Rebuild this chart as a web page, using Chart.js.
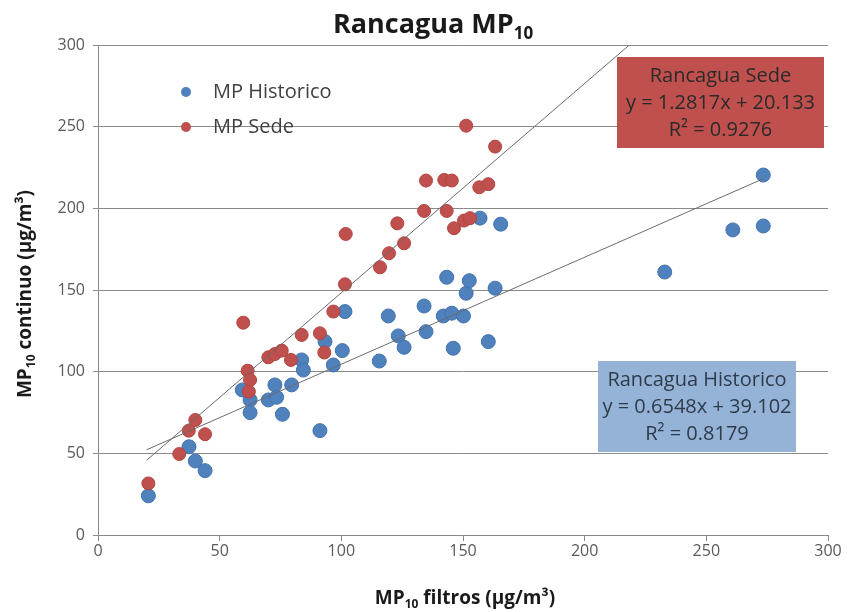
<!DOCTYPE html>
<html lang="es">
<head>
  <meta charset="UTF-8">
  <title>Rancagua MP10</title>
  <script src="https://cdn.jsdelivr.net/npm/chart.js"></script>
  <style>
    body { margin: 0; background: #fff; }
    #grafico { display: block; }
  </style>
</head>
<body>
  <canvas id="grafico" width="851" height="612"></canvas>
  <script>
    // MP Historico (filtros, continuo)
    const histX = [20.7, 37.4, 40, 44, 59.3, 62.5, 62.5, 70, 72.7, 73.4, 75.8, 79.6, 83.7, 84.4, 91.2, 93.3, 96.7, 100.4, 101.5, 115.6, 119.3, 123.4, 125.8, 134, 134.8, 141.9, 143.3, 145.4, 146, 150.2, 151.3, 152.6, 157, 160.4, 163.2, 165.5, 232.9, 260.9, 273.4, 273.4];
    const histY = [24, 54, 45.3, 39.4, 88.8, 82.7, 74.9, 82.7, 91.9, 84.3, 73.9, 91.9, 107.2, 101, 63.9, 118.4, 104.1, 112.9, 136.8, 106.5, 134.1, 121.9, 114.9, 140.2, 124.5, 134.1, 157.8, 135.8, 114.3, 134.1, 148, 155.7, 194, 118.4, 151.1, 190.3, 161, 186.8, 220.4, 189.2];

    // MP Sede
    const sedeX = [20.7, 33.4, 37.3, 40, 44, 59.7, 61.5, 62.5, 62, 70, 72.7, 75.5, 79.3, 83.7, 91.2, 93, 96.7, 101.8, 101.5, 115.9, 119.6, 123, 125.8, 134, 134.8, 142.3, 143.3, 145.4, 146.3, 150.4, 151.3, 152.9, 156.7, 160.4, 163.2];
    const sedeY = [31.6, 49.6, 63.9, 70.4, 61.7, 130, 100.6, 94.9, 87.8, 108.8, 110.8, 112.9, 107.2, 122.5, 123.5, 111.7, 136.8, 184.3, 153.5, 163.9, 172.5, 190.8, 178.6, 198.4, 217, 217.4, 198.4, 217, 187.8, 192.5, 250.6, 194, 212.9, 214.8, 237.8];

    // lineas de tendencia (pendiente, intercepto) y su rango en x
    const sedeFit = [1.2817, 20.133];
    const sedeFitX = [20, 218.4];
    const histFit = [0.6548, 39.102];
    const histFitX = [20, 273.4];

    const legendLabels = ["MP Historico", "MP Sede"];
    const sedeBox = ["Rancagua Sede", "y = 1.2817x + 20.133", "R² = 0.9276"];
    const histBox = ["Rancagua Historico", "y = 0.6548x + 39.102", "R² = 0.8179"];

    const FONT = "'Open Sans', Lato, sans-serif";
    const azul = "#4f81bd";
    const rojo = "#c0504d";

    const pts = (xs, ys) => xs.map((x, i) => ({ x, y: ys[i] }));
    const fit = (f, xs) => xs.map(x => ({ x, y: f[0] * x + f[1] }));

    // texto con subindice: parts = [[texto, esSub], ...]
    function drawRich(ctx, parts, x, y, size) {
      const big = "bold " + size + "px " + FONT;
      const small = "bold " + Math.round(size * 0.62) + "px " + FONT;
      let w = 0;
      parts.forEach(p => { ctx.font = p[1] ? small : big; w += ctx.measureText(p[0]).width; });
      let cx = x - w / 2;
      ctx.textAlign = "left";
      ctx.textBaseline = "alphabetic";
      parts.forEach(p => {
        ctx.font = p[1] ? small : big;
        ctx.fillText(p[0], cx, p[1] ? y + size * 0.22 : y);
        cx += ctx.measureText(p[0]).width;
      });
    }

    function drawBox(ctx, lines, x, y, w, h, fill, color) {
      ctx.fillStyle = fill;
      ctx.fillRect(x, y, w, h);
      ctx.fillStyle = color;
      ctx.font = "20px " + FONT;
      ctx.textAlign = "center";
      ctx.textBaseline = "middle";
      lines.forEach((t, i) => ctx.fillText(t, x + w / 2, y + 19 + i * 27));
    }

    const textos = {
      id: "textos",
      afterDraw(chart) {
        const ctx = chart.ctx;
        ctx.save();
        ctx.fillStyle = "#1a1a1a";
        drawRich(ctx, [["Rancagua MP", false], ["10", true]], 433, 33, 27);
        drawRich(ctx, [["MP", false], ["10", true], [" filtros (µg/m³)", false]], 465, 604, 19);
        ctx.translate(31, 294);
        ctx.rotate(-Math.PI / 2);
        drawRich(ctx, [["MP", false], ["10", true], [" continuo (µg/m³)", false]], 0, 0, 19);
        ctx.restore();

        ctx.save();
        // leyenda
        [azul, rojo].forEach((c, i) => {
          const ly = 92 + i * 35;
          ctx.beginPath();
          ctx.arc(186, ly, 5, 0, Math.PI * 2);
          ctx.fillStyle = c;
          ctx.fill();
          ctx.fillStyle = "#404040";
          ctx.font = "20px " + FONT;
          ctx.textAlign = "left";
          ctx.textBaseline = "middle";
          ctx.fillText(legendLabels[i], 213, ly);
        });
        drawBox(ctx, sedeBox, 617, 57, 207, 91, "#c0504d", "#2a2a2a");
        drawBox(ctx, histBox, 598, 361, 198, 91, "#95b3d7", "#2e3b4a");
        ctx.restore();
      }
    };

    new Chart(document.getElementById("grafico"), {
      type: "scatter",
      data: {
        datasets: [
          {
            type: "line", label: "tendencia sede", data: fit(sedeFit, sedeFitX),
            borderColor: "#6b6b6b", borderWidth: 1, pointRadius: 0, order: -1
          },
          {
            type: "line", label: "tendencia historico", data: fit(histFit, histFitX),
            borderColor: "#6b6b6b", borderWidth: 1, pointRadius: 0, order: -1
          },
          {
            label: legendLabels[1], data: pts(sedeX, sedeY),
            backgroundColor: rojo, borderColor: "#b04542", borderWidth: 1, pointRadius: 6.5, order: 0
          },
          {
            label: legendLabels[0], data: pts(histX, histY),
            backgroundColor: azul, borderColor: "#4373ad", borderWidth: 1, pointRadius: 7, order: 1
          }
        ]
      },
      options: {
        responsive: false,
        animation: false,
        layout: { padding: { top: 45, right: 23, left: 0, bottom: 0 } },
        plugins: { legend: { display: false }, title: { display: false }, tooltip: { enabled: false } },
        scales: {
          x: {
            type: "linear", min: 0, max: 300,
            afterFit: s => { s.height = 77; },
            ticks: { stepSize: 50, color: "#595959", font: { family: FONT, size: 16 }, padding: 1 },
            grid: { drawOnChartArea: false, drawTicks: true, tickLength: 6, color: "#8a8a8a" },
            border: { color: "#8a8a8a" }
          },
          y: {
            min: 0, max: 300,
            afterFit: s => { s.width = 98; },
            ticks: { stepSize: 50, color: "#595959", font: { family: FONT, size: 16 }, padding: 8 },
            grid: { color: "#8a8a8a", tickLength: 5 },
            border: { color: "#8a8a8a" }
          }
        }
      },
      plugins: [textos]
    });
  </script>
</body>
</html>
